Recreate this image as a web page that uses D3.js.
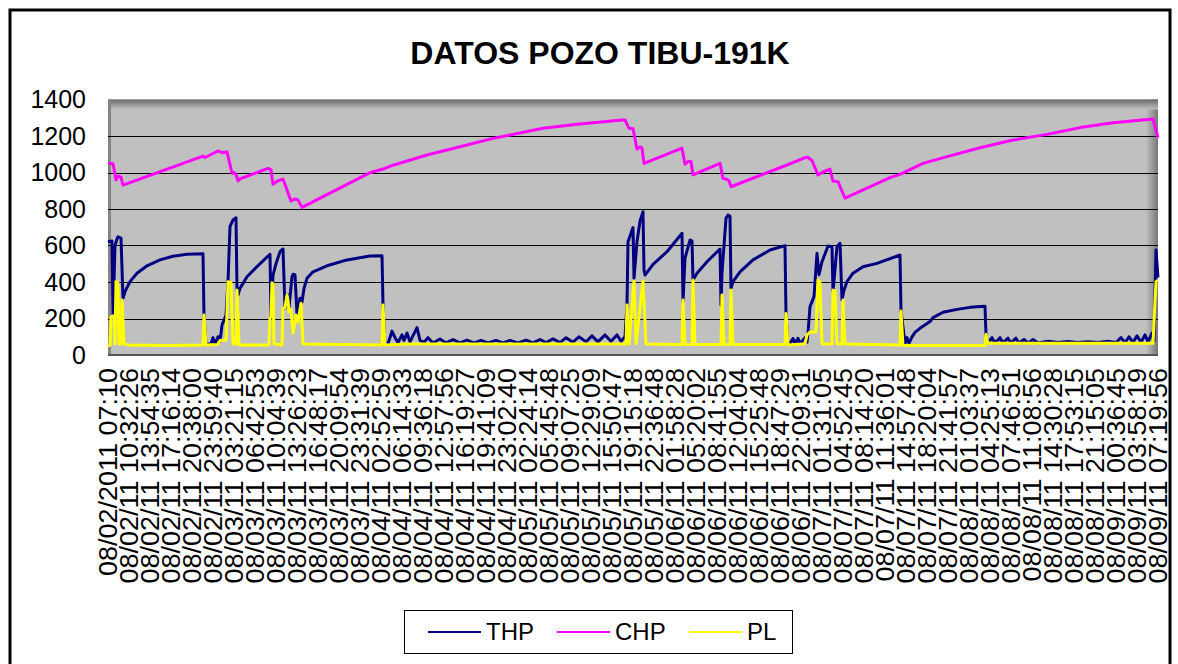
<!DOCTYPE html>
<html>
<head>
<meta charset="utf-8">
<script src="https://cdn.jsdelivr.net/npm/d3@7"></script>
<style>
  body { margin: 0; background: #fff; }
  text { font-family: Arial, "Liberation Sans", sans-serif; }
</style>
</head>
<body>
<div id="chart"></div>
<script>
// Chart dimensions
const FRAME_WIDTH = 1178;
const FRAME_HEIGHT = 664;
const PLOT = {left: 108, right: 1158, top: 99.5, bottom: 355};

// Sample index of the readings (one label every 21 samples)
const PASO_ETIQUETA = 21;

// Tick labels of the category axis
const etiquetas = [
  "08/02/2011 07:10", "08/02/11 10:32:26", "08/02/11 13:54:35", "08/02/11 17:16:14",
  "08/02/11 20:38:00", "08/02/11 23:59:40", "08/03/11 03:21:15", "08/03/11 06:42:53",
  "08/03/11 10:04:39", "08/03/11 13:26:23", "08/03/11 16:48:17", "08/03/11 20:09:54",
  "08/03/11 23:31:39", "08/04/11 02:52:59", "08/04/11 06:14:33", "08/04/11 09:36:18",
  "08/04/11 12:57:56", "08/04/11 16:19:27", "08/04/11 19:41:09", "08/04/11 23:02:40",
  "08/05/11 02:24:14", "08/05/11 05:45:48", "08/05/11 09:07:25", "08/05/11 12:29:09",
  "08/05/11 15:50:47", "08/05/11 19:15:18", "08/05/11 22:36:48", "08/06/11 01:58:28",
  "08/06/11 05:20:02", "08/06/11 08:41:55", "08/06/11 12:04:04", "08/06/11 15:25:48",
  "08/06/11 18:47:29", "08/06/11 22:09:31", "08/07/11 01:31:05", "08/07/11 04:52:45",
  "08/07/11 08:14:20", "08/07/11 11:36:01", "08/07/11 14:57:48", "08/07/11 18:20:04",
  "08/07/11 21:41:57", "08/08/11 01:03:37", "08/08/11 04:25:13", "08/08/11 07:46:51",
  "08/08/11 11:08:56", "08/08/11 14:30:28", "08/08/11 17:53:15", "08/08/11 21:15:05",
  "08/09/11 00:36:45", "08/09/11 03:58:19", "08/09/11 07:19:56"
];

const yTicks = [0, 200, 400, 600, 800, 1000, 1200, 1400];

// [sample index, psi]
const thp = [
  [0,621],[4,625],[5,210],[7,600],[9,636],[10,648],[13,640],[15,311],[17,347],[22,402],
  [29,448],[39,489],[52,521],[65,541],[79,552],[95,555],[96,219],[98,60],[103,62],[105,95],
  [107,60],[110,100],[112,75],[114,164],[116,192],[118,219],[120,402],[122,703],[125,740],[128,752],
  [129,360],[130,329],[132,365],[139,429],[149,484],[162,552],[163,201],[165,438],[168,500],[172,566],
  [175,581],[177,256],[180,329],[181,260],[184,429],[185,442],[187,440],[189,219],[192,311],[194,290],
  [196,365],[199,420],[205,456],[219,489],[239,521],[262,543],[274,544],[275,274],[277,60],[280,62],
  [284,131],[287,95],[290,68],[294,110],[296,80],[299,120],[302,72],[309,150],[312,80],[316,70],
  [320,95],[325,66],[332,88],[338,66],[345,84],[352,66],[359,82],[366,66],[373,80],[380,66],
  [388,80],[395,66],[402,80],[410,66],[418,82],[425,66],[432,85],[438,68],[445,88],[452,68],
  [458,95],[465,70],[471,100],[478,72],[484,105],[490,72],[497,110],[503,75],[509,110],[513,75],
  [517,100],[519,274],[520,621],[523,667],[525,698],[526,420],[529,621],[532,734],[535,785],[536,466],
  [537,438],[545,497],[559,566],[574,667],[575,292],[577,530],[582,630],[584,625],[585,411],[589,448],
  [599,511],[612,581],[613,274],[614,450],[618,749],[620,767],[622,760],[623,365],[625,402],[632,456],
  [645,521],[662,575],[677,599],[678,219],[680,60],[682,62],[685,90],[687,62],[690,92],[692,62],
  [697,95],[699,70],[700,120],[702,265],[706,320],[709,557],[711,440],[714,511],[720,597],[724,593],
  [725,347],[729,593],[732,612],[734,302],[736,356],[739,402],[745,448],[755,484],[769,502],[792,548],
  [793,241],[797,65],[799,95],[801,65],[804,99],[807,124],[812,146],[822,183],[825,205],[835,234],
  [849,250],[862,261],[877,267],[878,110],[880,68],[884,95],[887,66],[892,95],[895,66],[900,92],
  [903,66],[908,92],[911,66],[916,85],[920,66],[925,85],[930,66],[940,76],[950,68],[960,74],
  [970,68],[980,72],[990,68],[1000,75],[1008,68],[1013,95],[1017,68],[1021,100],[1025,68],[1029,105],
  [1033,70],[1037,110],[1040,72],[1044,120],[1046,75],[1048,575],[1050,424]
];

const chp = [
  [0,1050],[5,1048],[8,959],[10,981],[13,975],[15,931],[95,1090],[97,1082],[110,1118],[115,1108],
  [119,1114],[124,996],[126,1000],[128,990],[130,954],[132,965],[160,1023],[163,1015],[165,935],[169,952],
  [175,964],[183,844],[187,855],[190,850],[194,809],[262,999],[275,1019],[285,1040],[319,1096],[352,1141],
  [385,1187],[405,1209],[435,1242],[469,1264],[514,1288],[517,1288],[521,1242],[525,1240],[529,1129],[532,1140],
  [534,1135],[536,1050],[574,1133],[577,1045],[580,1060],[583,1060],[585,987],[612,1050],[615,968],[619,962],
  [621,955],[623,922],[679,1041],[697,1081],[700,1083],[704,1066],[710,986],[714,1000],[722,1019],[725,953],
  [730,950],[737,859],[782,972],[792,990],[815,1050],[839,1087],[872,1136],[905,1178],[939,1209],[972,1246],
  [1005,1273],[1045,1293],[1050,1191]
];

const pl = [
  [0,50],[2,52],[3,210],[6,215],[7,60],[8,402],[10,395],[11,60],[13,60],[14,302],
  [16,60],[20,55],[60,52],[95,55],[96,219],[98,55],[110,58],[112,80],[118,82],[120,402],
  [123,395],[125,60],[128,60],[129,356],[131,55],[161,55],[162,201],[163,210],[164,396],[165,390],
  [166,60],[174,55],[175,256],[177,260],[179,329],[180,300],[181,236],[183,250],[185,120],[188,219],
  [190,180],[193,283],[195,60],[274,55],[275,274],[277,55],[300,60],[518,60],[519,274],[521,60],
  [526,406],[528,60],[535,406],[538,60],[574,58],[575,302],[577,58],[584,58],[585,411],[587,58],
  [613,58],[614,329],[616,58],[622,58],[623,356],[625,58],[677,58],[678,227],[680,55],[697,62],
  [699,110],[702,126],[708,126],[710,411],[712,400],[714,60],[724,60],[725,356],[727,350],[729,60],
  [734,60],[735,301],[737,60],[792,55],[793,241],[795,52],[877,52],[878,113],[880,64],[1045,64],
  [1048,402],[1050,410]
];

const series = [
  {name: "THP", data: thp, color: "#000080"},
  {name: "CHP", data: chp, color: "#FF00FF"},
  {name: "PL",  data: pl,  color: "#FFFF00"}
];

const svg = d3.select("#chart")
  .append("svg")
    .attr("width", FRAME_WIDTH)
    .attr("height", FRAME_HEIGHT);

// outer chart border
svg.append("rect")
  .attr("x", 10).attr("y", 10)
  .attr("width", 1160).attr("height", 700)
  .attr("fill", "none")
  .attr("stroke", "#000")
  .attr("stroke-width", 3);

// title
svg.append("text")
  .attr("x", 600).attr("y", 64)
  .attr("text-anchor", "middle")
  .attr("font-size", "32px")
  .attr("font-weight", "bold")
  .text("DATOS POZO TIBU-191K");

const xSCALE = d3.scaleLinear()
  .domain([0, (etiquetas.length - 1) * PASO_ETIQUETA])
  .range([PLOT.left, PLOT.right]);

const ySCALE = d3.scaleLinear()
  .domain([0, 1400])
  .range([PLOT.bottom, PLOT.top]);

// plot area with the bevelled look
const defs = svg.append("defs");
const gTop = defs.append("linearGradient").attr("id", "gTop")
  .attr("x1", 0).attr("y1", 0).attr("x2", 0).attr("y2", 1);
gTop.append("stop").attr("offset", "0%").attr("stop-color", "#6a6a6a");
gTop.append("stop").attr("offset", "100%").attr("stop-color", "#c0c0c0");
const gRight = defs.append("linearGradient").attr("id", "gRight")
  .attr("x1", 0).attr("y1", 0).attr("x2", 1).attr("y2", 0);
gRight.append("stop").attr("offset", "0%").attr("stop-color", "#c0c0c0");
gRight.append("stop").attr("offset", "100%").attr("stop-color", "#777");

svg.append("rect")
  .attr("x", PLOT.left).attr("y", PLOT.top)
  .attr("width", PLOT.right - PLOT.left).attr("height", PLOT.bottom - PLOT.top)
  .attr("fill", "#C0C0C0");
svg.append("rect")
  .attr("x", PLOT.right - 12).attr("y", PLOT.top)
  .attr("width", 12).attr("height", PLOT.bottom - PLOT.top)
  .attr("fill", "url(#gRight)");
svg.append("rect")
  .attr("x", PLOT.left).attr("y", PLOT.top)
  .attr("width", PLOT.right - PLOT.left).attr("height", 10)
  .attr("fill", "url(#gTop)");
svg.append("rect")
  .attr("x", PLOT.left).attr("y", PLOT.top)
  .attr("width", 3).attr("height", PLOT.bottom - PLOT.top)
  .attr("fill", "#858585");

// gridlines
svg.append("g")
  .selectAll("line")
  .data(yTicks.filter(v => v > 0 && v < 1400))
  .enter()
  .append("line")
    .attr("x1", PLOT.left).attr("x2", PLOT.right)
    .attr("y1", d => Math.round(ySCALE(d)) + 0.5)
    .attr("y2", d => Math.round(ySCALE(d)) + 0.5)
    .attr("stroke", "#000")
    .attr("stroke-width", 1);

svg.append("line")
  .attr("x1", PLOT.left).attr("x2", PLOT.right)
  .attr("y1", PLOT.bottom).attr("y2", PLOT.bottom)
  .attr("stroke", "#555").attr("stroke-width", 2);

// y-axis labels
svg.append("g")
  .selectAll("text")
  .data(yTicks)
  .enter()
  .append("text")
    .attr("x", 86)
    .attr("y", d => ySCALE(d))
    .attr("dy", "0.35em")
    .attr("text-anchor", "end")
    .attr("font-size", "25px")
    .text(d => d);

// x-axis labels, rotated (a bit stretched along the text like the original)
svg.append("g")
  .selectAll("text")
  .data(etiquetas)
  .enter()
  .append("text")
    .attr("transform", (d, i) => "translate(" + xSCALE(i * PASO_ETIQUETA) + ",368) rotate(-90) scale(1.08,1)")
    .attr("dy", "0.35em")
    .attr("text-anchor", "end")
    .attr("font-size", "25px")
    .text(d => d);

// series lines
const line = d3.line()
  .x(d => xSCALE(d[0]))
  .y(d => ySCALE(d[1]));

svg.append("g")
  .selectAll("path")
  .data(series)
  .enter()
  .append("path")
    .attr("d", d => line(d.data))
    .attr("fill", "none")
    .attr("stroke", d => d.color)
    .attr("stroke-width", 3)
    .attr("stroke-linejoin", "round");

// legend
const legend = svg.append("g");
legend.append("rect")
  .attr("x", 404.5).attr("y", 610.5)
  .attr("width", 388).attr("height", 43)
  .attr("fill", "#fff")
  .attr("stroke", "#000")
  .attr("stroke-width", 1);

const legendX = [428, 557, 689];
series.forEach((s, i) => {
  legend.append("line")
    .attr("x1", legendX[i]).attr("x2", legendX[i] + 53)
    .attr("y1", 632).attr("y2", 632)
    .attr("stroke", s.color)
    .attr("stroke-width", 2);
  legend.append("text")
    .attr("x", legendX[i] + 58)
    .attr("y", 632)
    .attr("dy", "0.35em")
    .attr("font-size", "24px")
    .text(s.name);
});
</script>
</body>
</html>
